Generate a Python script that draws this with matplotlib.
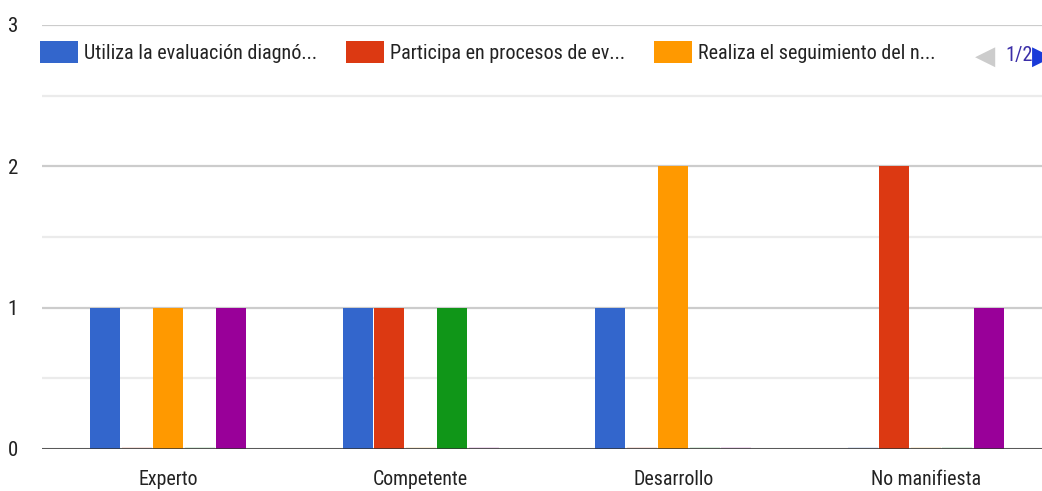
import matplotlib
matplotlib.use('Agg')
import matplotlib.pyplot as plt
from matplotlib import font_manager
from matplotlib.font_manager import FontProperties
import numpy as np
import os

categories = ['Experto', 'Competente', 'Desarrollo', 'No manifiesta']
series_labels = ['Utiliza la evaluación diagnó...', 'Participa en procesos de ev...',
                 'Realiza el seguimiento del n...', 'Serie 4', 'Serie 5']
utiliza = [1, 1, 1, 0]
participa = [0, 1, 0, 2]
realiza = [1, 0, 2, 0]
serie4 = [0, 1, 0, 0]
serie5 = [1, 0, 0, 1]
colors = ['#3366cc', '#dc3912', '#ff9900', '#109618', '#990099']
yticks = [0, 1, 2, 3]
page_label = '1/2'

# ---- pick a narrow / condensed font if one is installed ----
prefs = ['LiberationSansNarrow-Regular', 'RobotoCondensed-Regular', 'NotoSans-ExtraCondensed',
         'NotoSans-Condensed', 'OpenSans-CondensedRegular', 'OpenSans_Condensed-Regular',
         'DejaVuSansCondensed.']
files = [f.fname for f in font_manager.fontManager.ttflist]
chosen = None
for p in prefs:
    for fn in files:
        if p.lower() in os.path.basename(fn).lower():
            chosen = fn
            break
    if chosen:
        break
if chosen:
    base_prop = FontProperties(fname=chosen)
else:
    base_prop = FontProperties(family='Liberation Sans')

W, H = 1042, 491
PX = 100 / 72.0  # pixels per point
fig = plt.figure(figsize=(W / 100, H / 100), dpi=100)
renderer = fig.canvas.get_renderer()

def size_for(text, target_px, maxsize=17.0):
    p = base_prop.copy()
    p.set_size(10)
    t = fig.text(0, 0, text, fontproperties=p)
    w = t.get_window_extent(renderer).width
    t.remove()
    return min(maxsize, 10 * target_px / w)

fs_leg = size_for(series_labels[0], 232)
fs_cat = size_for('No manifiesta', 109)
fs_y = min(fs_cat * 1.05, 17)

def prop(size):
    p = base_prop.copy()
    p.set_size(size)
    return p

ax = fig.add_axes([42 / W, 42 / H, 1010 / W, 424 / H])

series = [utiliza, participa, realiza, serie4, serie5]
x = np.arange(len(categories))
pitch = 0.125
bw = 0.119
handles = []
for i, (vals, c) in enumerate(zip(series, colors)):
    off = (i - 2) * pitch
    h = [v if v > 0 else 0.012 for v in vals]
    b = ax.bar(x + off, h, width=bw, color=c, zorder=3, label=series_labels[i])
    for rect, v in zip(b, vals):
        if v == 0:
            rect.set_alpha(0.12)
    handles.append(b)

ax.set_xlim(-0.5, 3.5)
ax.set_ylim(0, 3)
ax.set_yticks(yticks)
ax.set_yticks([0.5, 1.5, 2.5], minor=True)
ax.set_xticks(x)
ax.set_xticklabels(categories)
ax.tick_params(axis='both', length=0, colors='#222222')
ax.tick_params(axis='y', pad=21)
ax.tick_params(axis='x', pad=15)
ax.tick_params(which='minor', length=0)
for lab in ax.get_xticklabels():
    lab.set_fontproperties(prop(fs_cat))
for lab in ax.get_yticklabels():
    lab.set_fontproperties(prop(fs_y))
    lab.set_horizontalalignment('center')
ax.grid(axis='y', which='major', color='#cccccc', linewidth=1.6, zorder=0)
ax.grid(axis='y', which='minor', color='#ebebeb', linewidth=1.6, zorder=0)
for s in ax.spines.values():
    s.set_visible(False)
ax.axhline(0, color='#333333', linewidth=1.8, zorder=4)

# legend (page 1 of 2)
fpx = fs_leg * PX
leg = ax.legend(handles=handles[:3], labels=series_labels[:3], loc='upper left',
                bbox_to_anchor=(-2 / 1010, 1 - 16 / 424), ncol=3, frameon=False,
                prop=prop(fs_leg), handlelength=38 / fpx, handleheight=26 / fpx,
                handletextpad=6 / fpx, columnspacing=29 / fpx,
                borderaxespad=0, borderpad=0.0)
for h in leg.legend_handles:
    h.set_alpha(1)
for t in leg.get_texts():
    t.set_color('#222222')
leg.set_zorder(5)

# pagination
fig.text(1005 / W, 1 - 55 / H, page_label, color='#3b2ea8', fontproperties=prop(fs_leg),
         va='center', ha='left')
fig.text(975 / W, 1 - 57 / H, '\u25C0', color='#cccccc', fontsize=19, va='center', ha='left',
         family='DejaVu Sans')
fig.text(1032 / W, 1 - 57 / H, '\u25B6', color='#1a3ad8', fontsize=19, va='center', ha='left',
         family='DejaVu Sans')

fig.savefig('out.png', dpi=100)
